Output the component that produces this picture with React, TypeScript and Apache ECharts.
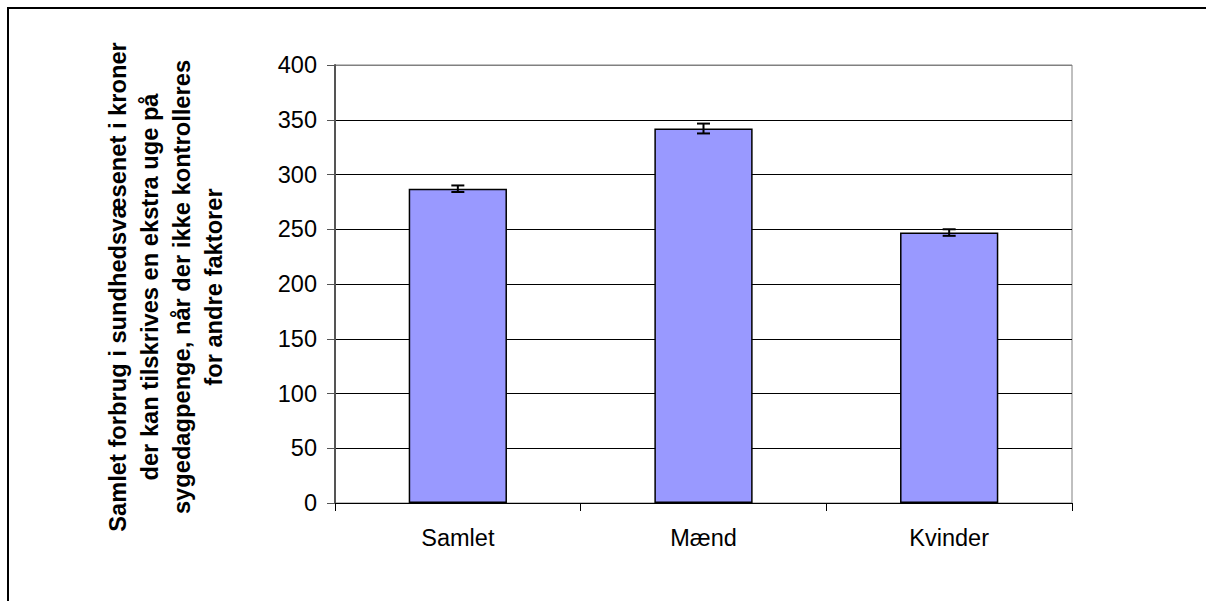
import React, { useEffect, useRef } from "react";
import * as echarts from "echarts";

const categories = ["Samlet", "Mænd", "Kvinder"];
const values = [287, 342, 247];
const errors = [3, 4.5, 3];
const yTicks = [0, 50, 100, 150, 200, 250, 300, 350, 400];
const titleLines = [
  "Samlet forbrug i sundhedsvæsenet i kroner",
  "der kan tilskrives en ekstra uge på",
  "sygedagpenge, når der ikke kontrolleres",
  "for andre faktorer",
];

export default function App() {
  const ref = useRef<HTMLDivElement>(null);
  useEffect(() => {
    if (!ref.current) return;
    const chart = echarts.init(ref.current, null, { renderer: "svg" });
    const font = "'Liberation Sans', Arial, sans-serif";
    chart.setOption({
      animation: false,
      backgroundColor: "#ffffff",
      grid: {
        left: 335,
        top: 65,
        width: 737,
        height: 438,
        show: true,
        borderColor: "#808080",
        borderWidth: 1,
        backgroundColor: "transparent",
      },
      xAxis: {
        type: "category",
        data: categories,
        axisLine: { lineStyle: { color: "#000", width: 1 } },
        axisTick: { show: true, alignWithLabel: false, length: 8, lineStyle: { color: "#000" } },
        axisLabel: { color: "#000", fontSize: 23.5, fontFamily: font, margin: 23 },
        splitLine: { show: false },
      },
      yAxis: {
        type: "value",
        min: yTicks[0],
        max: yTicks[yTicks.length - 1],
        interval: 50,
        axisLine: { show: true, lineStyle: { color: "#555", width: 2 } },
        axisTick: { show: true, length: 8, lineStyle: { color: "#555" } },
        axisLabel: { color: "#000", fontSize: 23.5, fontFamily: font, margin: 18 },
        splitLine: {
          show: true,
          lineStyle: {
            color: ["#000", "#000", "#000", "#000", "#000", "#000", "#000", "#000", "#808080"],
            width: 1,
          },
        },
      },
      graphic: [
        {
          type: "line",
          shape: { x1: 8, y1: 8, x2: 1206, y2: 8 },
          style: { stroke: "#000", lineWidth: 2 },
          silent: true,
        },
        {
          type: "line",
          shape: { x1: 8, y1: 7, x2: 8, y2: 601 },
          style: { stroke: "#000", lineWidth: 2 },
          silent: true,
        },
        {
          type: "text",
          x: 166,
          y: 287,
          rotation: Math.PI / 2,
          style: {
            text: titleLines.join("\n"),
            font: `bold 23.7px ${font}`,
            fill: "#000",
            align: "center",
            verticalAlign: "middle",
            lineHeight: 32,
          },
        },
      ],
      series: [
        {
          type: "bar",
          data: values,
          barWidth: "40%",
          itemStyle: { color: "#9999FF", borderColor: "#000", borderWidth: 1.5 },
          z: 2,
        },
        {
          type: "custom",
          data: values.map((v, i) => [i, v, errors[i]]),
          z: 3,
          renderItem: (params: any, api: any) => {
            const i = api.value(0);
            const v = api.value(1);
            const e = api.value(2);
            const top = api.coord([i, v + e]);
            const bot = api.coord([i, v - e]);
            const hw = 6.5;
            const st = { stroke: "#000", lineWidth: 2 };
            return {
              type: "group",
              children: [
                { type: "line", shape: { x1: top[0], y1: top[1], x2: bot[0], y2: bot[1] }, style: st },
                { type: "line", shape: { x1: top[0] - hw, y1: top[1], x2: top[0] + hw, y2: top[1] }, style: st },
                { type: "line", shape: { x1: bot[0] - hw, y1: bot[1], x2: bot[0] + hw, y2: bot[1] }, style: st },
              ],
            };
          },
        },
      ],
    });
    return () => chart.dispose();
  }, []);
  return (
    <div
      ref={ref}
      style={{ position: "absolute", left: 0, top: 0, width: 1206, height: 601 }}
    />
  );
}
